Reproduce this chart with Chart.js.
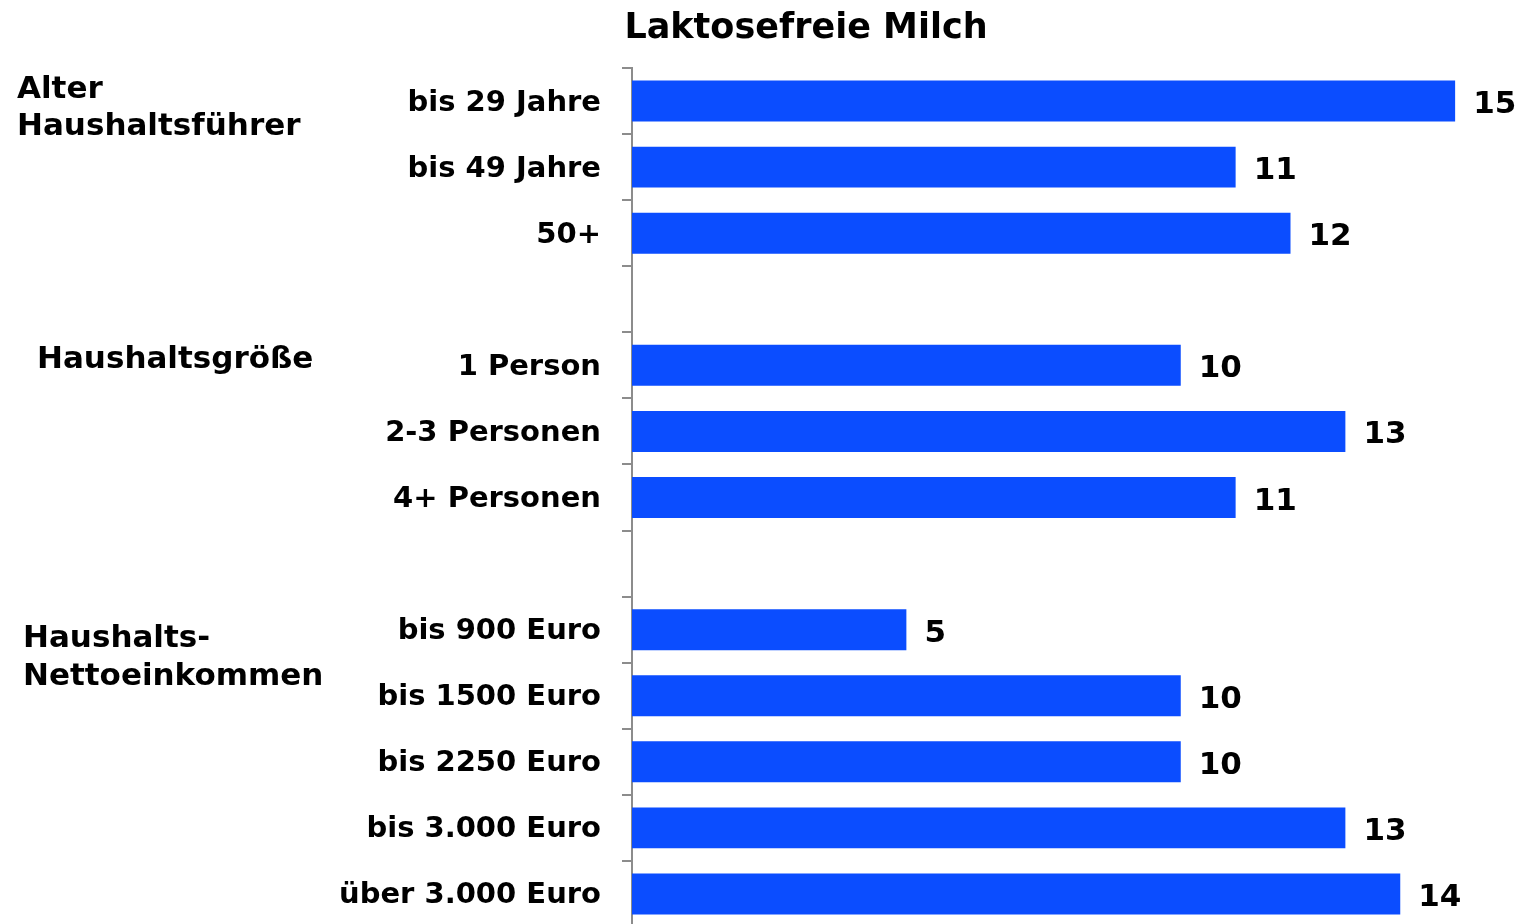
<!DOCTYPE html>
<html>
<head>
<meta charset="utf-8">
<script src="https://cdn.jsdelivr.net/npm/chart.js@4"></script>
<style>
    html, body { margin: 0; padding: 0; background: #ffffff; overflow: hidden; }
</style>
</head>
<body>
<canvas id="graficoBarras" width="1517" height="935"></canvas>
<script>
const categorias = ['bis 29 Jahre', 'bis 49 Jahre', '50+', '', '1 Person', '2-3 Personen', '4+ Personen', '', 'bis 900 Euro', 'bis 1500 Euro', 'bis 2250 Euro', 'bis 3.000 Euro', 'über 3.000 Euro'];
const valores    = [15, 11, 12, null, 10, 13, 11, null, 5, 10, 10, 13, 14];
const titulo     = 'Laktosefreie Milch';
const grupos     = [['Alter', 'Haushaltsführer'], ['Haushaltsgröße'], ['Haushalts-', 'Nettoeinkommen']];
const escalaX    = [0, 16];

const fonte = '"DejaVu Sans", Verdana, sans-serif';

// titulo + rotulos dos grupos a esquerda
const textosPlugin = {
    id: 'textos',
    afterDraw(chart) {
        const ctx = chart.ctx;
        ctx.save();
        ctx.fillStyle = '#000000';
        ctx.textBaseline = 'middle';

        ctx.font = 'bold 35px ' + fonte;
        ctx.textAlign = 'center';
        ctx.fillText(titulo, 806, 29);

        ctx.font = 'bold 31px ' + fonte;
        ctx.textAlign = 'left';
        const posicoes = [[17, [90, 127]], [37, [360]], [23, [639, 677]]];
        grupos.forEach((linhas, i) => {
            const [x, ys] = posicoes[i];
            linhas.forEach((linha, j) => ctx.fillText(linha, x, ys[j]));
        });
        ctx.restore();
    }
};

// valores ao lado das barras
const valoresPlugin = {
    id: 'valores',
    afterDatasetsDraw(chart) {
        const ctx = chart.ctx;
        const meta = chart.getDatasetMeta(0);
        ctx.save();
        ctx.fillStyle = '#000000';
        ctx.font = 'bold 31px ' + fonte;
        ctx.textAlign = 'left';
        ctx.textBaseline = 'middle';
        meta.data.forEach((barra, i) => {
            if (valores[i] === null) return;
            ctx.fillText(valores[i], barra.x + 18, barra.y + 4);
        });
        ctx.restore();
    }
};

new Chart(document.getElementById('graficoBarras'), {
    type: 'bar',
    data: {
        labels: categorias,
        datasets: [
            {
                data: valores,
                backgroundColor: '#0b4dff',
                borderWidth: 0,
                barPercentage: 0.62,
                categoryPercentage: 1,
            }
        ]
    },
    options: {
        indexAxis: 'y',
        responsive: false,
        animation: false,
        layout: { padding: { top: 68, right: 7, bottom: 8, left: 0 } },
        plugins: {
            legend: { display: false },
            tooltip: { enabled: false }
        },
        scales: {
            x: {
                display: false,
                min: escalaX[0],
                max: escalaX[1]
            },
            y: {
                afterFit(scale) {
                    scale.width = 632;
                    // sem folga extra em cima/embaixo, o eixo vai ate o fim da imagem
                    scale.paddingTop = 0;
                    scale.paddingBottom = 0;
                },
                ticks: {
                    padding: 21,
                    labelOffset: 2,
                    color: '#000000',
                    font: { family: fonte, size: 29, weight: 'bold' }
                },
                grid: {
                    offset: true,
                    drawOnChartArea: false,
                    tickLength: 10,
                    color: '#8c8c8c',
                    lineWidth: 2
                },
                border: { color: '#8c8c8c', width: 2 }
            }
        }
    },
    plugins: [textosPlugin, valoresPlugin]
});
</script>
</body>
</html>
